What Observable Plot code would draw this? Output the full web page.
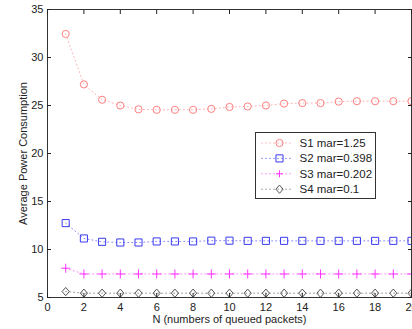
<!DOCTYPE html>
<html><head><meta charset="utf-8">
<script src="https://cdn.jsdelivr.net/npm/d3@7"></script>
<script src="https://cdn.jsdelivr.net/npm/@observablehq/plot@0.6"></script>
<style>body{margin:0;background:#fff}#c{position:relative;width:412px;height:329px}svg{font-family:"Liberation Sans",Arial,sans-serif}</style>
</head><body><div id="c"></div>
<script>
const N = [1,2,3,4,5,6,7,8,9,10,11,12,13,14,15,16,17,18,19,20];
const s1 = [32.45,27.2,25.6,25.0,24.6,24.55,24.55,24.55,24.65,24.85,24.9,25.0,25.2,25.25,25.25,25.4,25.45,25.45,25.45,25.45];
const s2 = [12.75,11.15,10.8,10.73,10.73,10.84,10.84,10.84,10.92,10.92,10.9,10.9,10.9,10.9,10.9,10.9,10.9,10.9,10.9,10.9];
const s3 = [8.05,7.45,7.45,7.45,7.45,7.45,7.45,7.45,7.45,7.45,7.45,7.45,7.45,7.45,7.45,7.45,7.45,7.45,7.45,7.45];
const s4 = [5.62,5.45,5.45,5.45,5.45,5.45,5.45,5.45,5.45,5.45,5.45,5.45,5.45,5.45,5.45,5.45,5.45,5.45,5.45,5.45];
const seriesNames = ["S1 mar=1.25","S2 mar=0.398","S3 mar=0.202","S4 mar=0.1"];
const colors = ["#ff7f7f","#3a3af0","#ff33ff","#555555"];
const matlabDiamond = {draw(ctx, size){ const r = Math.sqrt(size/Math.PI); ctx.moveTo(0,-r*1.15); ctx.lineTo(r,0); ctx.lineTo(0,r*1.15); ctx.lineTo(-r,0); ctx.closePath(); }};
const symbols = ["circle","square","plus",matlabDiamond];
const radii = [3.6,4.0,3.0,3.6];
const xTicks = [0,2,4,6,8,10,12,14,16,18,20];
const yTicks = [5,10,15,20,25,30,35];

const all = [s1,s2,s3,s4];
const marks = [];
all.forEach((s,i)=>{
  const data = N.map((n,j)=>({n, v:s[j]}));
  marks.push(Plot.line(data,{x:"n",y:"v",stroke:colors[i],strokeWidth:1,strokeDasharray:"1,3",strokeOpacity:0.6}));
  marks.push(Plot.dot(data,{x:"n",y:"v",stroke:colors[i],symbol:()=>symbols[i],r:radii[i],strokeWidth:1,fill:"none"}));
});
const tickColor = "#222";
const chart = Plot.plot({
  width:412, height:329,
  marginLeft:47, marginRight:1, marginTop:9, marginBottom:32,
  x:{domain:[0,20]},
  y:{domain:[5,35]},
  style:{fontSize:"11px", fontFamily:"Liberation Sans, Arial, sans-serif", color:"#222"},
  marks:[
    ...marks,
    Plot.frame({stroke:"#333"}),
    Plot.axisX(xTicks,{anchor:"bottom",tickSize:0,tickPadding:6,label:"N (numbers of queued packets)",labelAnchor:"center",labelArrow:"none",labelOffset:25,fill:"#222"}),
    Plot.axisX(xTicks,{anchor:"bottom",tickSize:-4,tickFormat:()=>"",label:null,stroke:tickColor}),
    Plot.axisX(xTicks,{anchor:"top",tickSize:-4,tickFormat:()=>"",label:null,stroke:tickColor}),
    Plot.axisY(yTicks,{anchor:"left",tickSize:0,tickPadding:4,label:"Average Power Consumption",labelAnchor:"center",labelArrow:"none",labelOffset:28,fill:"#222"}),
    Plot.axisY(yTicks,{anchor:"left",tickSize:-4,tickFormat:()=>"",label:null,stroke:tickColor}),
    Plot.axisY(yTicks,{anchor:"right",tickSize:-4,tickFormat:()=>"",label:null,stroke:tickColor})
  ]
});
document.getElementById("c").appendChild(chart);

// Legend
const svg = d3.select(chart);
const lg = svg.append("g").attr("transform","translate(255.5,132.5)").attr("text-anchor","start");
lg.append("rect").attr("width",120).attr("height",66).attr("fill","#fff").attr("stroke","#333");
seriesNames.forEach((name,i)=>{
  const y = 10.5 + i*15.4;
  lg.append("line").attr("x1",6).attr("x2",38).attr("y1",y).attr("y2",y)
    .attr("stroke",colors[i]).attr("stroke-dasharray","1,3").attr("stroke-width",1);
  let path;
  if (symbols[i]==="plus") {
    path = "M-3.5,0H3.5M0,-3.5V3.5";
  } else {
    const sym = typeof symbols[i]==="string" ? {circle:d3.symbolCircle,square:d3.symbolSquare}[symbols[i]] : symbols[i];
    path = d3.symbol(sym, Math.PI*radii[i]*radii[i])();
  }
  lg.append("path").attr("d",path).attr("transform",`translate(24,${y})`).attr("fill","none").attr("stroke",colors[i]);
  lg.append("text").attr("x",44).attr("y",y).attr("dy","0.35em").attr("text-anchor","start").attr("font-size",11.5).attr("fill","#222").text(name);
});
</script></body></html>
